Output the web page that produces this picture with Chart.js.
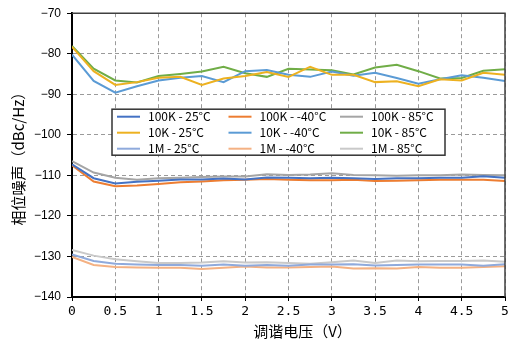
<!DOCTYPE html>
<html>
<head>
<meta charset="utf-8">
<script src="https://cdn.jsdelivr.net/npm/chart.js@4/dist/chart.umd.min.js"></script>
<style>
  html, body { margin: 0; padding: 0; background: #fff; }
  #wrap { width: 516px; height: 347px; }
</style>
</head>
<body>
<div id="wrap"><canvas id="c" width="516" height="347"></canvas></div>
<script>
// Tuning voltage (V)
const voltage = [0, 0.25, 0.5, 0.75, 1, 1.25, 1.5, 1.75, 2, 2.25, 2.5, 2.75, 3, 3.25, 3.5, 3.75, 4, 4.25, 4.5, 4.75, 5];

// Phase noise (dBc/Hz) at 100 kHz offset
const pn100k_25 = [-107.3, -110.7, -112.0, -111.6, -111.3, -111.0, -111.0, -110.8, -111.0, -110.5, -110.6, -110.7, -110.6, -110.7, -110.9, -110.7, -110.7, -110.6, -110.6, -110.2, -110.6];
const pn100k_m40 = [-107.5, -111.5, -112.7, -112.5, -112.1, -111.7, -111.5, -111.2, -111.1, -110.9, -111.1, -111.2, -111.2, -111.1, -111.4, -111.3, -111.2, -111.1, -111.1, -111.1, -111.4];
const pn100k_85 = [-106.5, -109.3, -110.6, -111.1, -110.7, -110.6, -110.4, -110.3, -110.3, -109.7, -109.9, -109.8, -109.5, -109.9, -110.0, -110.1, -110.0, -110.0, -109.8, -109.9, -110.0];

// Phase noise (dBc/Hz) at 10 kHz offset
const pn10k_25 = [-78.3, -84.3, -87.7, -87.0, -85.9, -85.7, -87.7, -86.1, -85.5, -84.5, -85.7, -83.2, -85.2, -85.2, -87.0, -86.8, -88.0, -86.3, -86.6, -84.7, -85.2];
const pn10k_m40 = [-80.2, -86.7, -89.6, -88.0, -86.6, -85.9, -85.5, -87.0, -84.3, -84.0, -85.2, -85.7, -84.4, -85.4, -84.7, -86.0, -87.4, -86.3, -85.3, -85.9, -86.7];
const pn10k_85 = [-78.1, -83.7, -86.6, -87.1, -85.5, -85.0, -84.4, -83.2, -84.8, -85.7, -83.7, -83.9, -84.1, -85.1, -83.4, -82.7, -84.3, -86.1, -86.0, -84.2, -83.8];

// Phase noise (dBc/Hz) at 1 MHz offset
const pn1m_25 = [-129.5, -131.1, -131.8, -132.0, -132.1, -132.1, -132.3, -132.0, -132.3, -132.1, -132.3, -132.0, -132.0, -131.9, -132.2, -132.1, -132.0, -132.0, -132.0, -132.3, -131.9];
const pn1m_m40 = [-130.1, -132.1, -132.6, -132.7, -132.8, -132.8, -133.1, -132.8, -132.5, -132.7, -132.7, -132.6, -132.5, -133.0, -132.9, -133.0, -132.6, -132.8, -132.8, -132.6, -132.4];
const pn1m_85 = [-128.4, -129.8, -130.7, -131.2, -131.6, -131.6, -131.5, -131.2, -131.5, -131.4, -131.6, -131.8, -131.4, -131.0, -131.6, -131.0, -131.2, -131.1, -131.1, -131.0, -131.3];

// Legend labels (row-major, three per row)
const seriesLabels = [
  '100K - 25°C', '100K - -40°C', '100K - 85°C',
  '10K - 25°C', '10K - -40°C', '10K - 85°C',
  '1M - 25°C', '1M - -40°C', '1M - 85°C'
];
const seriesValues = [pn100k_25, pn100k_m40, pn100k_85, pn10k_25, pn10k_m40, pn10k_85, pn1m_25, pn1m_m40, pn1m_85];
const seriesColors = ['#4472C4', '#ED7D31', '#A5A5A5', '#EDB120', '#5B9BD5', '#70AD47', '#8FAADC', '#F4B183', '#C9C9C9'];

// Axis ticks and titles
const yTicks = [-140, -130, -120, -110, -100, -90, -80, -70];
const xTitle = '调谐电压（V）';
const yTitle = '相位噪声（dBc/Hz）';

const datasets = seriesValues.map((vals, i) => ({
  label: seriesLabels[i],
  data: voltage.map((v, k) => ({ x: v, y: vals[k] })),
  borderColor: seriesColors[i],
  backgroundColor: seriesColors[i],
  borderWidth: 2,
  pointRadius: 0,
  tension: 0,
  fill: false
}));

// Solid frame on the top and right edges of the plot area
const framePlugin = {
  id: 'frame',
  afterDatasetsDraw(chart) {
    const { ctx, chartArea: a } = chart;
    ctx.save();
    ctx.strokeStyle = '#404040';
    ctx.lineWidth = 1.5;
    ctx.beginPath();
    ctx.moveTo(a.left, a.top);
    ctx.lineTo(a.right, a.top);
    ctx.lineTo(a.right, a.bottom);
    ctx.stroke();
    ctx.restore();
  }
};

// X-axis title, placed a little right of the plot centre
const xTitlePlugin = {
  id: 'xTitle',
  afterDraw(chart) {
    const { ctx, chartArea: a } = chart;
    ctx.save();
    ctx.font = '15px "Noto Sans CJK SC", sans-serif';
    ctx.fillStyle = '#000';
    ctx.textAlign = 'center';
    ctx.textBaseline = 'alphabetic';
    ctx.fillText(xTitle, (a.left + a.right) / 2 + 14, a.bottom + 40);
    ctx.restore();
  }
};

// Boxed three-column legend inside the plot
const boxLegend = {
  id: 'boxLegend',
  afterDraw(chart) {
    const { ctx, chartArea: a } = chart;
    const x0 = a.left + 40, y0 = a.top + 96, w = 333, h = 46;
    ctx.save();
    ctx.fillStyle = '#fff';
    ctx.fillRect(x0, y0, w, h);
    ctx.strokeStyle = '#333';
    ctx.lineWidth = 1.5;
    ctx.strokeRect(x0, y0, w, h);
    ctx.font = '12px "Noto Sans CJK SC", sans-serif';
    ctx.textBaseline = 'alphabetic';
    ctx.textAlign = 'left';
    chart.data.datasets.forEach((ds, i) => {
      const col = i % 3, row = Math.floor(i / 3);
      const lx = x0 + 5 + col * 111.5;
      const ly = y0 + 7.5 + row * 16;
      ctx.strokeStyle = ds.borderColor;
      ctx.lineWidth = 2;
      ctx.beginPath();
      ctx.moveTo(lx, ly);
      ctx.lineTo(lx + 23, ly);
      ctx.stroke();
      ctx.fillStyle = '#000';
      ctx.fillText(ds.label, lx + 31, ly + 4.5);
    });
    ctx.restore();
  }
};

new Chart(document.getElementById('c'), {
  type: 'line',
  data: { datasets },
  options: {
    responsive: false,
    devicePixelRatio: 1,
    animation: false,
    layout: { padding: { top: 10, right: 11, left: 0, bottom: 0 } },
    plugins: {
      legend: { display: false },
      tooltip: { enabled: false }
    },
    scales: {
      x: {
        type: 'linear',
        min: 0,
        max: 5,
        afterFit: s => { s.height = 50; },
        ticks: {
          stepSize: 0.5,
          color: '#000',
          padding: 3,
          maxRotation: 0,
          font: { family: '"DejaVu Sans Mono", monospace', size: 13 },
          callback: v => String(v)
        },
        grid: {
          color: '#9a9a9a',
          lineWidth: 1,
          tickLength: 4,
          tickColor: '#000',
          tickBorderDash: []
        },
        border: { display: true, color: '#000', width: 2, dash: [4, 3] },
        title: { display: false }
      },
      y: {
        min: -140,
        max: -70,
        afterFit: s => { s.width = 72; },
        afterBuildTicks: s => { s.ticks = yTicks.map(v => ({ value: v })); },
        ticks: {
          color: '#000',
          padding: 6,
          font: { family: '"Liberation Sans", Arial, sans-serif', size: 12 },
          callback: v => String(v).replace('-', '\u2212')
        },
        grid: {
          color: '#9a9a9a',
          lineWidth: 1,
          tickLength: 5,
          tickColor: '#000',
          tickBorderDash: []
        },
        border: { display: true, color: '#000', width: 2, dash: [4, 3] },
        title: {
          display: true,
          text: yTitle,
          color: '#000',
          font: { family: '"Noto Sans CJK SC", sans-serif', size: 15 },
          padding: { top: 9, bottom: 0 }
        }
      }
    }
  },
  plugins: [framePlugin, xTitlePlugin, boxLegend]
});
</script>
</body>
</html>
